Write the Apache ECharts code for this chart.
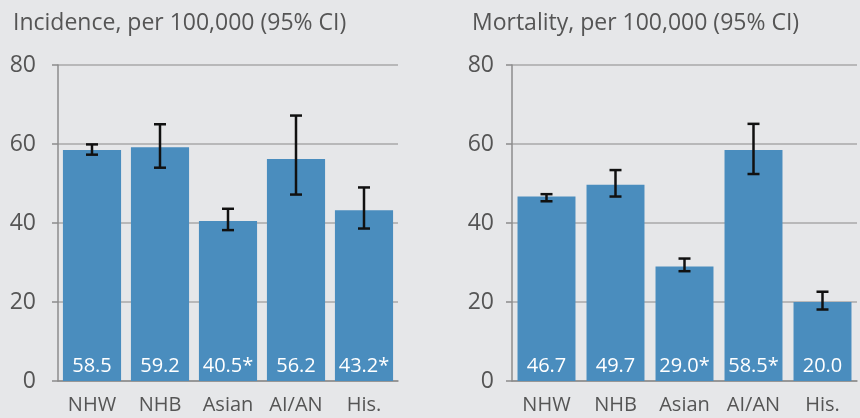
<!DOCTYPE html>
<html>
<head>
<meta charset="utf-8">
<script src="https://cdn.jsdelivr.net/npm/echarts@6/dist/echarts.min.js"></script>
<style>
  html, body { margin: 0; padding: 0; background: #e6e7e9; }
  #main { width: 860px; height: 418px; }
</style>
</head>
<body>
<div id="main"></div>
<script>
// 数据
var groups = ['NHW', 'NHB', 'Asian', 'AI/AN', 'His.'];
var yTicks = [0, 20, 40, 60, 80];

var incidence = [58.5, 59.2, 40.5, 56.2, 43.2];
var incidenceLow = [57.3, 54.0, 38.2, 47.2, 38.6];
var incidenceHigh = [59.9, 65.0, 43.6, 67.2, 49.0];
var incidenceStar = [false, false, true, false, true];

var mortality = [46.7, 49.7, 29.0, 58.5, 20.0];
var mortalityLow = [45.5, 46.7, 27.8, 52.4, 18.1];
var mortalityHigh = [47.3, 53.4, 31.0, 65.1, 22.6];
var mortalityStar = [false, false, true, true, false];

var titles = ['Incidence, per 100,000 (95% CI)', 'Mortality, per 100,000 (95% CI)'];

var font = '"Open Sans", "Noto Sans", sans-serif';
var textColor = '#555555';
var barColor = '#4a8dbe';

function barData(vals, stars){
    return vals.map(function(v, i){
        return { value: v, label: { formatter: v.toFixed(1) + (stars[i] ? '*' : '') } };
    });
}

function errData(low, high){
    return low.map(function(l, i){ return [i, l, high[i]]; });
}

function renderErr(params, api){
    var lo = api.coord([api.value(0), api.value(1)]);
    var hi = api.coord([api.value(0), api.value(2)]);
    var hw = 6;
    var style = { stroke: '#111111', lineWidth: 2.5 };
    return {
        type: 'group',
        children: [
            { type: 'line', shape: { x1: hi[0], y1: hi[1], x2: lo[0], y2: lo[1] }, style: style },
            { type: 'line', shape: { x1: hi[0] - hw, y1: hi[1], x2: hi[0] + hw, y2: hi[1] }, style: style },
            { type: 'line', shape: { x1: lo[0] - hw, y1: lo[1], x2: lo[0] + hw, y2: lo[1] }, style: style }
        ]
    };
}

function xAxis(idx){
    return {
        type: 'category',
        gridIndex: idx,
        data: groups,
        axisLine: { show: true, lineStyle: { color: '#8c8c8c', width: 1.5 } },
        axisTick: { show: false },
        axisLabel: { color: textColor, fontSize: 20, fontFamily: font, margin: 14, interval: 0, hideOverlap: false }
    };
}

function yAxis(idx, margin){
    return {
        type: 'value',
        gridIndex: idx,
        min: yTicks[0],
        max: yTicks[yTicks.length - 1],
        interval: 20,
        axisLine: { show: true, lineStyle: { color: '#8c8c8c', width: 1.5 } },
        axisTick: { show: true, length: 6, lineStyle: { color: '#8c8c8c', width: 1.5 } },
        axisLabel: { color: textColor, fontSize: 23, fontFamily: font, margin: margin },
        splitLine: { show: true, lineStyle: { color: '#a8a8a8', width: 1.5 } }
    };
}

var myChart = echarts.init(document.getElementById('main'));
var option = {
    backgroundColor: '#e6e7e9',
    animation: false,
    title: [
        { text: titles[0], left: 8, top: 7, textStyle: { color: textColor, fontSize: 23, fontWeight: 'normal', fontFamily: font } },
        { text: titles[1], left: 467, top: 7, textStyle: { color: textColor, fontSize: 23, fontWeight: 'normal', fontFamily: font } }
    ],
    grid: [
        { left: 58, right: 462, top: 65, bottom: 37 },
        { left: 512, right: 3, top: 65, bottom: 37 }
    ],
    xAxis: [xAxis(0), xAxis(1)],
    yAxis: [yAxis(0, 22), yAxis(1, 18)],
    series: [
        {
            type: 'bar', xAxisIndex: 0, yAxisIndex: 0,
            data: barData(incidence, incidenceStar),
            barCategoryGap: '14.5%',
            itemStyle: { color: barColor },
            label: { show: true, position: 'insideBottom', distance: 5, color: '#ffffff', fontSize: 20, fontFamily: font }
        },
        {
            type: 'custom', xAxisIndex: 0, yAxisIndex: 0,
            data: errData(incidenceLow, incidenceHigh),
            renderItem: renderErr, z: 5
        },
        {
            type: 'bar', xAxisIndex: 1, yAxisIndex: 1,
            data: barData(mortality, mortalityStar),
            barCategoryGap: '16%',
            itemStyle: { color: barColor },
            label: { show: true, position: 'insideBottom', distance: 5, color: '#ffffff', fontSize: 20, fontFamily: font }
        },
        {
            type: 'custom', xAxisIndex: 1, yAxisIndex: 1,
            data: errData(mortalityLow, mortalityHigh),
            renderItem: renderErr, z: 5
        }
    ]
};
myChart.setOption(option);
</script>
</body>
</html>
